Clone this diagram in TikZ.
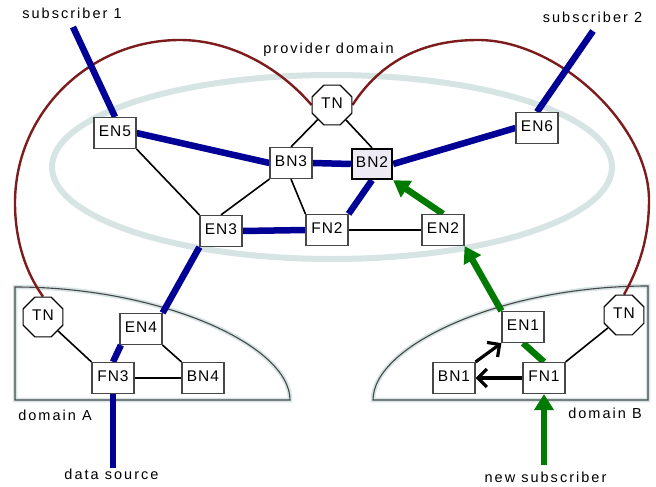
\documentclass[tikz,border=0pt]{standalone}
\usepackage{fontspec}
\setmainfont{Liberation Sans}
\newfontfamily\lblfont{Liberation Sans}[LetterSpace=14]
\newfontfamily\nodefont{Liberation Sans}[LetterSpace=6]
\usetikzlibrary{shapes.geometric,arrows.meta,calc,backgrounds}
\definecolor{netblue}{RGB}{0,0,150}
\definecolor{joingreen}{RGB}{0,122,0}
\definecolor{trustred}{RGB}{125,28,28}
\definecolor{domainhalo}{RGB}{214,228,228}
\definecolor{boxedge}{RGB}{70,70,70}
\definecolor{brokerfill}{RGB}{238,234,244}
\begin{document}
\begin{tikzpicture}[x=1pt,y=-1pt,
  box/.style={draw=boxedge, line width=1.2pt, fill=white, minimum width=42pt,
    minimum height=31pt, inner sep=0pt, text depth=3pt,
    font=\nodefont\fontsize{15.5}{18}\selectfont},
  broker/.style={box, draw=black, line width=2.4pt, fill=brokerfill,
    minimum width=40pt, minimum height=30pt},
  tn/.style={draw=black, line width=1.2pt, fill=white, regular polygon,
    regular polygon sides=8, minimum size=43pt, inner sep=0pt, text depth=3pt,
    font=\nodefont\fontsize{15.5}{18}\selectfont},
  lbl/.style={anchor=base, inner sep=0pt, font=\lblfont\fontsize{14.5}{17}\selectfont},
  thin/.style={line width=1.6pt},
  datapath/.style={netblue, line width=6.5pt},
  joinpath/.style={joingreen, line width=6.5pt},
  joinarrow/.style={joinpath, -{Triangle[length=16pt,width=19pt]}},
  probe/.style={line width=3.2pt, -{Straight Barb[length=9pt,width=18pt]}},
  trust/.style={trustred, line width=2.4pt},
  halo/.style={domainhalo, line width=4.5pt},
  domainedge/.style={draw=boxedge, line width=1.1pt},
]
\useasboundingbox (0,0) rectangle (656,487);

% nodes of the provider domain
\node[box] (EN5) at (115,133) {EN5};
\node[box] (BN3) at (291,163) {BN3};
\node[broker] (BN2) at (372,164) {BN2};
\node[box] (EN6) at (537,128) {EN6};
\node[box] (EN3) at (221,231) {EN3};
\node[box] (FN2) at (327,230) {FN2};
\node[box] (EN2) at (443,230) {EN2};
\node[tn] (TNP) at (332,105) {TN};

% domain A
\node[box] (EN4) at (141,329) {EN4};
\node[box] (FN3) at (113,378) {FN3};
\node[box] (BN4) at (203,378) {BN4};
\node[tn] (TNA) at (43,317) {TN};

% domain B
\node[box] (EN1) at (523,327) {EN1};
\node[box] (FN1) at (544,378) {FN1};
\node[box] (BN1) at (454,378) {BN1};
\node[tn] (TNB) at (624,315) {TN};

% labels
\node[lbl] (s1) at (72,18.5) {subscriber 1};
\node[lbl] (s2) at (592.5,23) {subscriber 2};
\node[lbl] (pd) at (328.5,54) {provider domain};
\node[lbl] (dA) at (55,420) {domain A};
\node[lbl] (ds) at (111.5,479) {data source};
\node[lbl] (dB) at (605,418) {domain B};
\node[lbl] (ns) at (545.5,482) {new subscriber};

\coordinate (s1end) at (73,27);
\coordinate (s2end) at (593,31);
\coordinate (dsend) at (113,468);
\coordinate (nsend) at (544,465);

\begin{pgfonlayer}{background}
  \fill[white] (0,0) rectangle (656,487);

  % provider domain outline
  \draw[domainhalo, line width=6pt] (332,167) ellipse [x radius=280, y radius=92];

  % domain A and domain B outlines
  \path[fill=white] (15,287) -- (15,400) -- (290,400)
    .. controls (290,345) and (160,287) .. (15,287) -- cycle;
  \draw[halo] (15,287) -- (15,400) -- (290,400)
    .. controls (290,345) and (160,287) .. (15,287) -- cycle;
  \draw[domainedge] (15,287) -- (15,400) -- (290,400)
    .. controls (290,345) and (160,287) .. (15,287) -- cycle;
  \path[fill=white] (648,286) -- (648,400) -- (373,400)
    .. controls (373,345) and (503,286) .. (648,286) -- cycle;
  \draw[halo] (648,286) -- (648,400) -- (373,400)
    .. controls (373,345) and (503,286) .. (648,286) -- cycle;
  \draw[domainedge] (648,286) -- (648,400) -- (373,400)
    .. controls (373,345) and (503,286) .. (648,286) -- cycle;

  % trust links between the TN nodes
  \draw[trust] (TNA.north) .. controls (24,270) and (15,237) .. (15,203)
    .. controls (15,113) and (89,40) .. (180,40)
    .. controls (230,40) and (279,67) .. (TNP.west);
  \draw[trust] (TNP.east) .. controls (381,61) and (423,40) .. (478,40)
    .. controls (558,40) and (649,125) .. (649,200)
    .. controls (649,235) and (641,264) .. (TNB.north);

  % plain links
  \draw[thin] (EN5.south east) -- (EN3.north west);
  \draw[thin] (BN3.south west) -- (EN3.north);
  \draw[thin] (BN3.south) -- (FN2.north west);
  \draw[thin] (BN3.north) -- (TNP);
  \draw[thin] (TNP) -- (BN2.north);
  \draw[thin] (FN2.east) -- (EN2.west);
  \draw[thin] (TNA) -- (FN3.north west);
  \draw[thin] (FN3.east) -- (BN4.west);
  \draw[thin] (EN4.south east) -- (BN4.north west);
  \draw[thin] (FN1.north east) -- (TNB);

  % data distribution paths
  \draw[datapath] (s1end) -- (EN5.north);
  \draw[datapath] (s2end) -- (EN6.north);
  \draw[datapath] (EN5.east) -- (BN3.west);
  \draw[datapath] (BN3.east) -- (BN2.west);
  \draw[datapath] (BN2.east) -- (EN6.west);
  \draw[datapath] (BN2.south) -- (FN2.north east);
  \draw[datapath] (EN3.east) -- (FN2.west);
  \draw[datapath] (EN3.south west) -- (EN4.north east);
  \draw[datapath] (FN3.north) -- ([xshift=1.5pt]EN4.south west);
  \draw[datapath] (FN3.south) -- (dsend);

  % join path of the new subscriber
  \draw[joinarrow] (nsend) -- (FN1.south);
  \draw[joinpath] (FN1.north) -- (EN1.south);
  \draw[joinarrow] (EN1.north west) -- (EN2.south east);
  \draw[joinarrow] (EN2.north) -- (BN2.south east);

  % probes inside domain B
  \draw[probe] (FN1.west) -- (BN1.east);
  \draw[probe] (BN1.north east) -- (EN1.south west);
\end{pgfonlayer}
\end{tikzpicture}
\end{document}
